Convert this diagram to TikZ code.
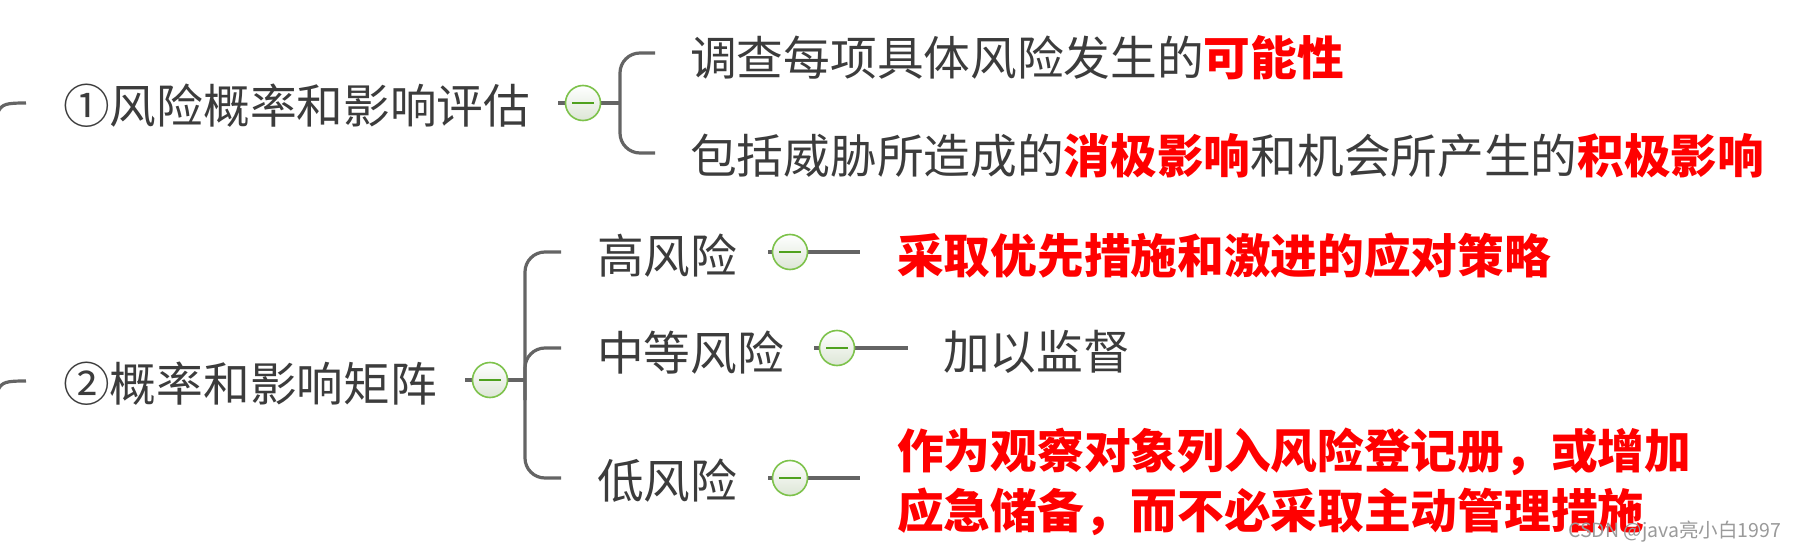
\documentclass[tikz,border=0pt]{standalone}
\usepackage{fontspec}
\setmainfont{Noto Sans CJK SC}[BoldFont={Noto Sans CJK SC Bold}]
\newfontfamily\heavy{Noto Sans CJK SC Black}
\definecolor{textgrey}{HTML}{3C3C3C}
\definecolor{linegrey}{HTML}{646464}
\definecolor{tgreen}{HTML}{7DC24B}
\definecolor{tminus}{HTML}{4FA11E}
\definecolor{tfill}{HTML}{DCE6D6}
\definecolor{mark}{HTML}{9A9A9A}
\begin{document}
\begin{tikzpicture}[x=1pt,y=-1pt,
  conn/.style={draw=linegrey, line width=3.2pt, rounded corners=20pt},
  txt/.style={anchor=west, inner sep=0pt, text=textgrey, font=\fontsize{46.7}{56}\selectfont},
  hot/.style={anchor=west, inner sep=0pt, text=red, align=left, font=\fontsize{46.7}{60}\selectfont\heavy},
  toggle/.style={circle, draw=tgreen, line width=1.6pt, minimum size=35pt, inner sep=0pt,
    top color=white, bottom color=tfill,
    path picture={\draw[tminus, line width=1.3pt]
      ([xshift=-11pt]path picture bounding box.center) -- ([xshift=11pt]path picture bounding box.center);}}
]
\useasboundingbox (0,0) rectangle (1797,551);
\fill[white] (0,0) rectangle (1797,551);

% ---------- row 1 ----------
\coordinate (s1a) at (-2,112);
\coordinate (s1b) at (26,103);
\draw[conn, rounded corners=0pt] (s1a) .. controls (2,104) and (6,103) .. (s1b);
\node[txt] (n1) at (63,106) {①风险概率和影响评估};
\coordinate (l1) at (558,103);
\coordinate (k1) at (620,103);
\coordinate (e1a) at (655,53);
\coordinate (e1b) at (655,153);
\draw[conn] (l1) -- (k1);
\draw[conn] (e1a) -- (620,53) -- (620,153) -- (e1b);
\node[toggle] (t1) at (583,103) {};
\node[txt] (c1) at (690,58) {调查每项具体风险发生的\textcolor{red}{\heavy 可能性}};
\node[txt] (c2) at (690,156) {包括威胁所造成的\textcolor{red}{\heavy 消极影响}和机会所产生的\textcolor{red}{\heavy 积极影响}};

% ---------- row 2 ----------
\coordinate (s2a) at (-2,390);
\coordinate (s2b) at (26,381);
\draw[conn, rounded corners=0pt] (s2a) .. controls (2,382) and (6,381) .. (s2b);
\node[txt] (n2) at (63,384) {②概率和影响矩阵};
\coordinate (l2) at (465,380);
\coordinate (k2) at (525,380);
\coordinate (e2a) at (561,252);
\coordinate (e2b) at (561,348);
\coordinate (e2c) at (561,478);
\draw[conn] (l2) -- (k2);
\draw[conn] (e2a) -- (525,252) -- (525,478) -- (e2c);
\draw[conn] (525,400) -- (525,348) -- (e2b);
\node[toggle] (t2) at (490,380) {};

\node[txt] (h) at (597,256) {高风险};
\node[txt] (m) at (597,353) {中等风险};
\node[txt] (lo) at (597,481) {低风险};

\coordinate (hl) at (768,252);
\coordinate (hr) at (860,252);
\coordinate (ml) at (814,348);
\coordinate (mr) at (908,348);
\coordinate (ll) at (768,478);
\coordinate (lr) at (860,478);
\draw[conn] (hl) -- (hr);
\draw[conn] (ml) -- (mr);
\draw[conn] (ll) -- (lr);
\node[toggle] (th) at (790,252) {};
\node[toggle] (tm) at (837,348) {};
\node[toggle] (tl) at (790,478) {};

\node[hot] (hh) at (897,256) {采取优先措施和激进的应对策略};
\node[txt] (mm) at (943,352) {加以监督};
\node[hot] (llo) at (897,482) {作为观察对象列入风险登记册，或增加\\应急储备，而不必采取主动管理措施};

\node[anchor=west, inner sep=0pt, text=mark, font=\fontsize{19.5}{22}\selectfont] (wm) at (1568,532) {CSDN @java亮小白1997};
\end{tikzpicture}
\end{document}
